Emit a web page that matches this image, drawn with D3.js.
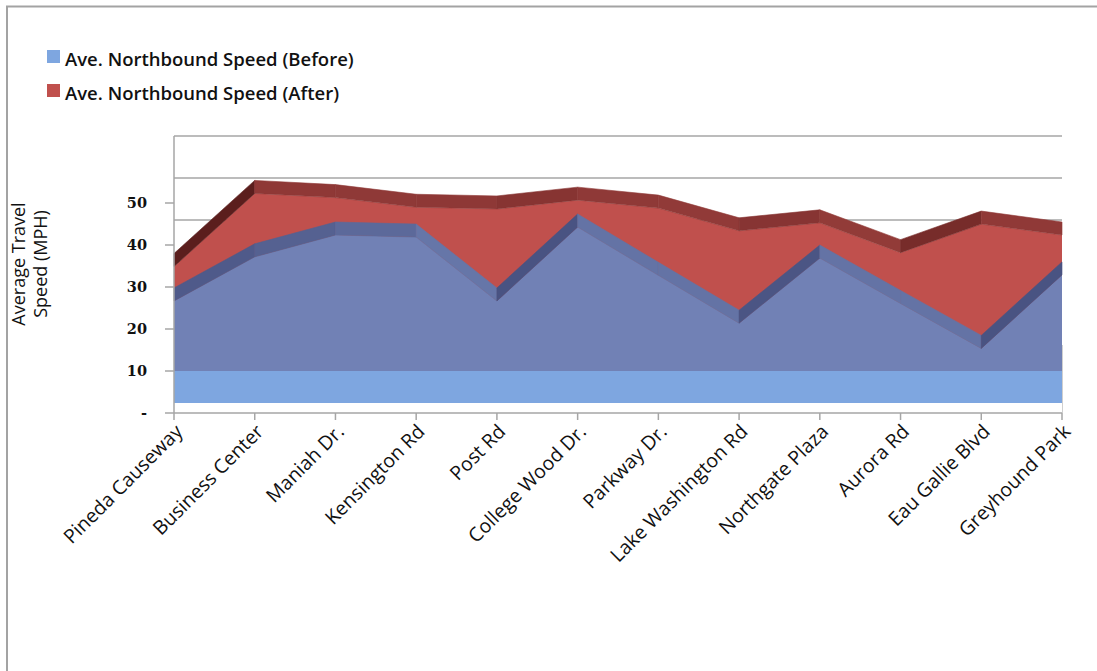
<!DOCTYPE html>
<html>
<head>
<meta charset="utf-8">
<script src="https://cdn.jsdelivr.net/npm/d3@7"></script>
<style>
  html, body { margin: 0; padding: 0; background: #fff; }
  svg { display: block; }
</style>
</head>
<body>
<svg id="chart" width="1097" height="671"></svg>
<script>
// Stops along the northbound corridor
const categories = [
  "Pineda Causeway", "Business Center", "Maniah Dr.", "Kensington Rd",
  "Post Rd", "College Wood Dr.", "Parkway Dr.", "Lake Washington Rd",
  "Northgate Plaza", "Aurora Rd", "Eau Gallie Blvd", "Greyhound Park"
];

// Average northbound speed (MPH) at each stop
const speedBefore = [24.3, 34.8, 40.0, 39.5, 24.3, 41.9, 30.4, 19.0, 34.5, 23.7, 13.0, 30.5];
const speedAfter  = [32.5, 49.9, 48.9, 46.6, 46.2, 48.3, 46.4, 41.0, 42.9, 35.8, 42.6, 40.0];

const seriesNames = ["Ave. Northbound Speed (Before)", "Ave. Northbound Speed (After)"];

// Value axis
const yTickValues = [0, 10, 20, 30, 40, 50];
const yTickLabels = ["-", "10", "20", "30", "40", "50"];
const wallGridValues = [0, 10, 20, 30, 40, 50, 60];
const yMax = 60;
const axisTitleLines = ["Average Travel", "Speed (MPH)"];

// ---- layout -----------------------------------------------------------
const svg = d3.select("#chart");
const left = 174, right = 1062, bottom = 413;
const x = d3.scalePoint().domain(categories).range([left, right]);
const y = d3.scaleLinear().domain([0, yMax]).range([bottom, bottom - yMax * 4.2]);

// oblique 3-D look: everything further back is shifted straight up
const frontOffset = 10;   // front face of the area series
const depth = 13;         // thickness of the series slab
const wallOffset = 25;    // back wall

const gridColor = "#A6A6A6";
const labelFont = "'Open Sans', 'Noto Sans', sans-serif";

// outer chart border
svg.append("rect")
  .attr("x", 7).attr("y", 6.5)
  .attr("width", 1200).attr("height", 800)
  .attr("fill", "none").attr("stroke", "#A3A3A3").attr("stroke-width", 2);

// ---- back wall gridlines ---------------------------------------------
svg.append("g").selectAll("line").data(wallGridValues).join("line")
  .attr("x1", left).attr("x2", right)
  .attr("y1", d => y(d) - wallOffset).attr("y2", d => y(d) - wallOffset)
  .attr("stroke", gridColor).attr("stroke-width", 1.5);

// ---- series -------------------------------------------------------------
const series = [
  { name: seriesNames[1], values: speedAfter,
    front: "#C0504D", shade: { rise: "#581C1B", flat: "#8E3836", fall: "#973E3B" } },
  { name: seriesNames[0], values: speedBefore,
    front: "#7181B5", shade: { rise: "#485281", flat: "#5C6999", fall: "#6878AB" } }
];
const legendColors = { [seriesNames[0]]: "#7EA6E0", [seriesNames[1]]: "#C0504D" };

function faceShade(stops, dx, dy) {
  const angle = Math.atan2(-dy, dx) * 180 / Math.PI;   // positive when rising
  const t = Math.max(-1, Math.min(1, angle / 45));
  return t >= 0 ? d3.interpolateRgb(stops.flat, stops.rise)(t)
                : d3.interpolateRgb(stops.flat, stops.fall)(-t);
}

const frontArea = d3.area()
  .x((d, i) => x(categories[i]))
  .y0(y(0) - frontOffset)
  .y1(d => y(d) - frontOffset);

series.forEach(s => {
  const g = svg.append("g");
  // front face
  g.append("path").datum(s.values)
    .attr("d", frontArea)
    .attr("fill", s.front);

  // lighter base band of the Before series, up to the 10 MPH level
  if (s.name === seriesNames[0]) {
    g.append("rect")
      .attr("x", left).attr("width", right - left)
      .attr("y", y(10)).attr("height", (y(0) - frontOffset) - y(10))
      .attr("fill", legendColors[seriesNames[0]]);
  }

  // top faces, one slab segment per pair of neighbouring stops
  const pts = s.values.map((v, i) => [x(categories[i]), y(v) - frontOffset]);
  const segs = d3.pairs(pts);
  g.selectAll("path.top").data(segs).join("path")
    .attr("class", "top")
    .attr("d", ([a, b]) => `M${a[0]},${a[1]}L${b[0]},${b[1]}L${b[0]},${b[1] - depth}L${a[0]},${a[1] - depth}Z`)
    .attr("fill", ([a, b]) => faceShade(s.shade, b[0] - a[0], b[1] - a[1]))
    .attr("stroke", ([a, b]) => faceShade(s.shade, b[0] - a[0], b[1] - a[1]))
    .attr("stroke-width", 0.6);
});

// ---- axes ----------------------------------------------------------------
const axisG = svg.append("g");
// left wall edge / value axis
axisG.append("line")
  .attr("x1", left).attr("x2", left)
  .attr("y1", y(yMax) - wallOffset).attr("y2", y(0))
  .attr("stroke", gridColor).attr("stroke-width", 1.5);
// category axis
axisG.append("line")
  .attr("x1", left).attr("x2", right)
  .attr("y1", y(0)).attr("y2", y(0))
  .attr("stroke", gridColor).attr("stroke-width", 1.5);
// right floor edge
axisG.append("line")
  .attr("x1", right + 0.5).attr("x2", right + 0.5)
  .attr("y1", y(0) - wallOffset - 43).attr("y2", y(0))
  .attr("stroke", "#CFCFCF").attr("stroke-width", 1);

// value ticks and labels
axisG.selectAll("line.ytick").data(yTickValues).join("line")
  .attr("class", "ytick")
  .attr("x1", left - 9).attr("x2", left)
  .attr("y1", d => y(d)).attr("y2", d => y(d))
  .attr("stroke", gridColor).attr("stroke-width", 1.5);
axisG.selectAll("text.ylab").data(yTickValues).join("text")
  .attr("class", "ylab")
  .attr("x", 147).attr("y", d => y(d))
  .attr("dy", "0.36em")
  .attr("text-anchor", "end")
  .attr("font-family", "'DejaVu Serif', serif")
  .attr("font-weight", "bold")
  .attr("font-size", 14.5)
  .attr("fill", "#111")
  .text((d, i) => yTickLabels[i]);

// category ticks and rotated labels
axisG.selectAll("line.xtick").data(categories).join("line")
  .attr("class", "xtick")
  .attr("x1", d => x(d)).attr("x2", d => x(d))
  .attr("y1", y(0)).attr("y2", y(0) + 7)
  .attr("stroke", gridColor).attr("stroke-width", 1.5);
axisG.selectAll("text.xlab").data(categories).join("text")
  .attr("class", "xlab")
  .attr("text-anchor", "end")
  .attr("transform", d => `translate(${x(d) + 5},${y(0) + 15}) rotate(-45)`)
  .attr("dy", "0.35em")
  .attr("font-family", labelFont)
  .attr("font-size", 19.5)
  .attr("fill", "#111")
  .text(d => d);

// value axis title
axisTitleLines.forEach((t, i) => {
  svg.append("text")
    .attr("transform", `translate(${19 + i * 22},264) rotate(-90)`)
    .attr("text-anchor", "middle")
    .attr("dy", "0.35em")
    .attr("font-family", labelFont)
    .attr("font-size", 18)
    .attr("fill", "#111")
    .text(t);
});

// ---- legend ----------------------------------------------------------------
const legend = svg.append("g");
seriesNames.forEach((name, i) => {
  legend.append("rect")
    .attr("x", 47).attr("y", 50 + i * 34)
    .attr("width", 13).attr("height", 13)
    .attr("fill", legendColors[name]);
  legend.append("text")
    .attr("x", 65).attr("y", 66 + i * 34)
    .attr("font-family", labelFont)
    .attr("font-weight", 600)
    .attr("font-size", 18.5)
    .attr("fill", "#111")
    .text(name);
});
</script>
</body>
</html>
